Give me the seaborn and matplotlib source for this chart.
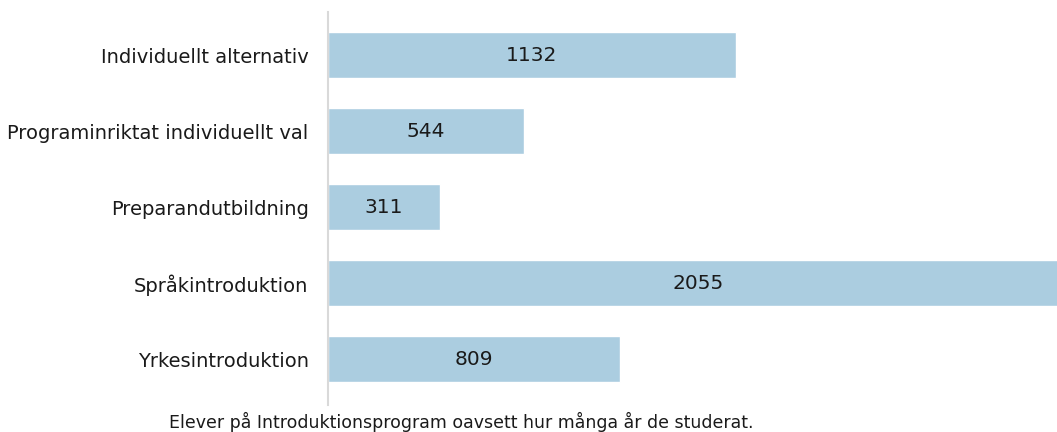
import pandas as pd
import seaborn as sns
import matplotlib.pyplot as plt

# categories and counts
program = ["Individuellt alternativ", "Programinriktat individuellt val",
           "Preparandutbildning", "Språkintroduktion", "Yrkesintroduktion"]
antal = [1132, 544, 311, 2055, 809]

df = pd.DataFrame({"program": program, "antal": antal})

sns.set_style("white")
plt.rcParams['font.family'] = ['DejaVu Sans']

fig = plt.figure(figsize=(10.57, 4.32), dpi=100)
ax = fig.add_axes([0.3103, 0.0625, 0.6897, 0.9097])

sns.barplot(data=df, x="antal", y="program", orient="h", color="#abcde0",
            saturation=1, width=0.61, ax=ax)

# value labels centred in each bar
for i, v in enumerate(antal):
    ax.text(v / 2, i, str(v), ha="center", va="center", fontsize=14.5, color="#1a1a1a")

ax.set_xlim(0, 2023)
ax.set_ylim(4.605, -0.566)
ax.set_xlabel("")
ax.set_ylabel("")
ax.set_xticks([])
ax.tick_params(axis="y", length=0, labelsize=14, pad=14, colors="#1a1a1a")
for s in ["top", "right", "bottom"]:
    ax.spines[s].set_visible(False)
ax.spines["left"].set_color("#d9d9d9")
ax.spines["left"].set_linewidth(1.5)

fig.text(0.436, 0.024, "Elever på Introduktionsprogram oavsett hur många år de studerat.",
         ha="center", va="center", fontsize=12.5, color="#1a1a1a")

fig.savefig("out.png", dpi=100)
